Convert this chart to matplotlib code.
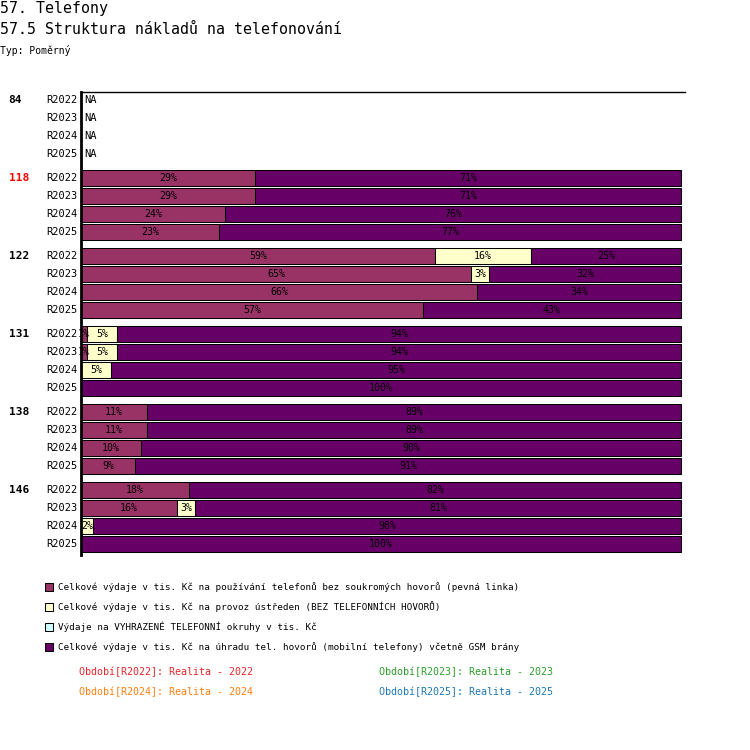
import matplotlib
matplotlib.use("Agg")
import matplotlib.pyplot as plt
from matplotlib.patches import Rectangle

plt.rcParams['font.family'] = ['DejaVu Sans Mono']

# Data
groups = ["84", "118", "122", "131", "138", "146"]
group_colors = ["black", "#ff0000", "black", "black", "black", "black"]
periods = ["R2022", "R2023", "R2024", "R2025"]
# per group, per period: [pevna linka, ustredny, vyhrazene okruhy, mobilni]; None = NA
values = [
    [None, None, None, None],
    [[29, 0, 0, 71], [29, 0, 0, 71], [24, 0, 0, 76], [23, 0, 0, 77]],
    [[59, 16, 0, 25], [65, 3, 0, 32], [66, 0, 0, 34], [57, 0, 0, 43]],
    [[1, 5, 0, 94], [1, 5, 0, 94], [0, 5, 0, 95], [0, 0, 0, 100]],
    [[11, 0, 0, 89], [11, 0, 0, 89], [10, 0, 0, 90], [9, 0, 0, 91]],
    [[18, 0, 0, 82], [16, 3, 0, 81], [0, 2, 0, 98], [0, 0, 0, 100]],
]
series = [
    "Celkové výdaje v tis. Kč na používání telefonů bez soukromých hovorů (pevná linka)",
    "Celkové výdaje v tis. Kč na provoz ústředen (BEZ TELEFONNÍCH HOVORŮ)",
    "Výdaje na VYHRAZENÉ TELEFONNÍ okruhy v tis. Kč",
    "Celkové výdaje v tis. Kč na úhradu tel. hovorů (mobilní telefony) včetně GSM brány",
]
colors = ["#993366", "#ffffcc", "#ccffff", "#660066"]
period_texts = ["Období[R2022]: Realita - 2022", "Období[R2023]: Realita - 2023",
                "Období[R2024]: Realita - 2024", "Období[R2025]: Realita - 2025"]
period_colors = ["#e8262a", "#2ca02c", "#ff7f0e", "#1f77b4"]

W = H = 750
fig = plt.figure(figsize=(7.5, 7.5), dpi=100)

def fx(px):
    return px / W

def fy(py):
    return 1 - py / H

# titles
fig.text(fx(0), fy(8), "57. Telefony", fontsize=10.7, va="center", ha="left")
fig.text(fx(0), fy(30), "57.5 Struktura nákladů na telefonování", fontsize=10.7, va="center", ha="left")
fig.text(fx(0), fy(50), "Typ: Poměrný", fontsize=7, va="center", ha="left")

top, bottom, left, right = 92, 555, 81, 685
ax = fig.add_axes([fx(left), fy(bottom), (right - left) / W, (bottom - top) / H])
ax.set_xlim(0, 100 * (right - left) / 600)
ax.set_ylim(bottom, top)
for s in ["right", "bottom"]:
    ax.spines[s].set_visible(False)
ax.spines["left"].set_linewidth(2)
ax.spines["top"].set_linewidth(1)
ax.set_xticks([])
ax.set_yticks([])

ytr = ax.get_yaxis_transform()
row_h, group_h = 18, 78
for g, name in enumerate(groups):
    for r, per in enumerate(periods):
        y = top + 8 + g * group_h + r * row_h
        if r == 0:
            ax.text(-0.12, y, name, transform=ytr, ha="left", va="center",
                    fontsize=8, fontweight="bold", color=group_colors[g], clip_on=False)
        ax.text(-0.005, y, per, transform=ytr, ha="right", va="center",
                fontsize=7.5, clip_on=False)
        vals = values[g][r]
        if vals is None:
            ax.text(0.5, y, "NA", ha="left", va="center", fontsize=7.5)
            continue
        acc = 0
        for k, v in enumerate(vals):
            if v > 0:
                bars = ax.barh(y, v, left=acc, height=16, color=colors[k],
                               edgecolor="black", linewidth=0.75)
                t = ax.text(acc + v / 2, y, "%d%%" % v, ha="center", va="center",
                            fontsize=7.2, color="black")
                t.set_clip_path(bars[0])
            acc += v

# legend
for i, lab in enumerate(series):
    yy = 587 + i * 20
    fig.patches.append(Rectangle((fx(45), fy(yy + 4)), 8 / W, 8 / H,
                                 transform=fig.transFigure, facecolor=colors[i],
                                 edgecolor="black", linewidth=0.75))
    fig.text(fx(58), fy(yy), lab, fontsize=6.7, va="center", ha="left")

for i, txt in enumerate(period_texts):
    fig.text(fx(79 + (i % 2) * 300), fy(672 + (i // 2) * 20), txt,
             fontsize=7.2, color=period_colors[i], va="center", ha="left")

fig.savefig("out.png", dpi=100)
